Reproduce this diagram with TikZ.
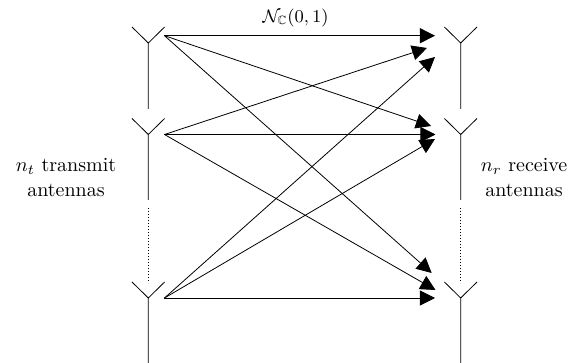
\documentclass[tikz,border=0pt]{standalone}
\usepackage{amssymb}
\usetikzlibrary{arrows.meta}
\tikzset{
  antenna/.style={draw=black,line width=0.4pt},
  dotline/.style={draw=black,line width=0.3pt,dash pattern=on 0.4pt off 1.1pt},
  link/.style={draw=black,line width=0.4pt,-{Triangle[length=7.5pt,width=7.5pt]}},
  lbl/.style={inner sep=0pt,align=center,font=\fontsize{10}{12.5}\selectfont},
  toplbl/.style={inner sep=0pt,font=\fontsize{9}{11}\selectfont}
}
\begin{document}
\begin{tikzpicture}[x=0.5pt,y=-0.5pt]
\useasboundingbox (0,0) rectangle (570,363);
% antennas: apex, arm ends, stem end
\foreach \n/\x/\ap/\st in {ta/148.3/43/109,tb/148.3/134.5/200,tc/148.3/298/363,ra/460.7/43/109,rb/460.7/134.5/200,rc/460.7/298/363}{
  \coordinate (\n) at (\x,\ap);
  \coordinate (\n-s) at (\x,\st);
  \coordinate (\n-l) at ([shift={(-16.3,-16)}]\n);
  \coordinate (\n-r) at ([shift={(16.3,-16)}]\n);
  \path[antenna] (\n-l) -- (\n) -- (\n-r) (\n) -- (\n-s);
}
% dotted continuation
\coordinate (td1) at (148.3,208); \coordinate (td2) at (148.3,283);
\coordinate (rd1) at (460.7,208); \coordinate (rd2) at (460.7,283);
\path[dotline] (td1) -- (td2);
\path[dotline] (rd1) -- (rd2);
% sources
\coordinate (s1) at (164.5,35.7);
\coordinate (s2) at (164.5,134.5);
\coordinate (s3) at (164.5,298);
% targets
\coordinate (e11) at (435,35.7);
\coordinate (e21) at (427,48);
\coordinate (e31) at (435,57);
\coordinate (e12) at (431,126);
\coordinate (e22) at (435.5,134.5);
\coordinate (e32) at (435,139);
\coordinate (e13) at (431.7,273);
\coordinate (e23) at (435.5,290);
\coordinate (e33) at (435,298);
\path[link] (s1) -- (e11);
\path[link] (s1) -- (e12);
\path[link] (s1) -- (e13);
\path[link] (s2) -- (e21);
\path[link] (s2) -- (e22);
\path[link] (s2) -- (e23);
\path[link] (s3) -- (e31);
\path[link] (s3) -- (e32);
\path[link] (s3) -- (e33);
% labels
\node[toplbl] (top) at (295.5,18) {$\mathcal{N}_{\mathbb{C}}(0,1)$};
\node[lbl] (tx) at (66,178) {$n_t$ transmit\\antennas};
\node[lbl] (rx) at (524,178) {$n_r$ receive\\antennas};
\end{tikzpicture}
\end{document}
